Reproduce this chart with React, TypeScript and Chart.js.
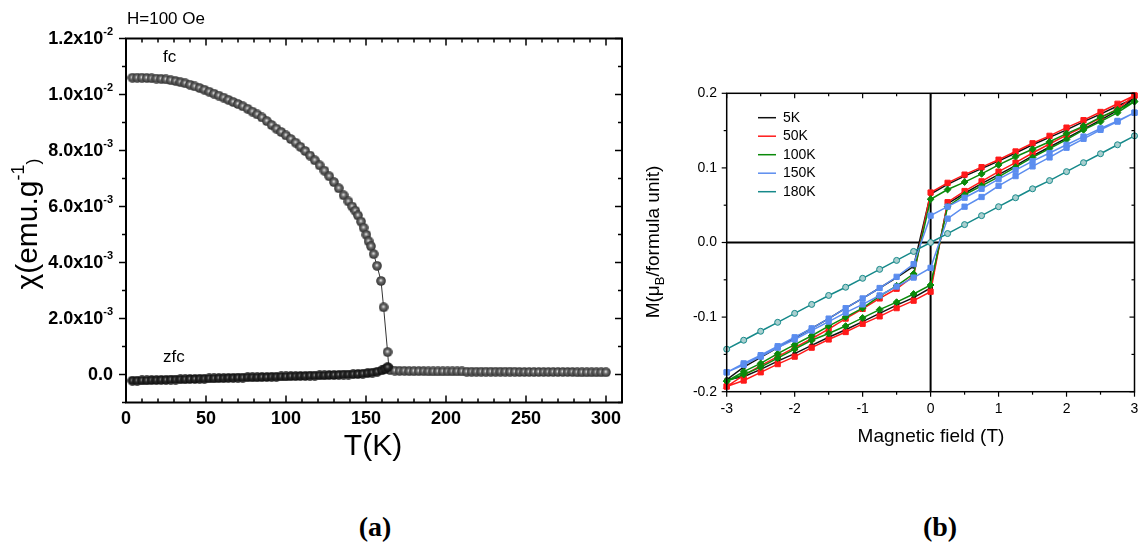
import { useEffect, useRef } from "react"
import { Chart, registerables } from "chart.js"

Chart.register(...registerables)

const SANS = '"Liberation Sans", Arial, Helvetica, sans-serif'
const SERIF = '"Liberation Serif", "Times New Roman", serif'

// ---- (a) susceptibility vs temperature, chi in units of 1e-3 emu/g
const fcTemp = [
  4, 7, 10, 13, 16, 19, 22, 25, 28, 31, 34, 37, 40, 43, 46, 49, 52, 55, 58, 61, 64, 67, 70, 73, 76, 79, 82, 85, 88,
  91, 94, 97, 100, 103, 106, 109, 112, 115, 118, 121, 124, 127, 130, 133, 136, 139, 141.3, 143.3, 145, 146.9, 148.5,
  150.2, 151.6, 153.1, 154.8, 156.9, 159.4, 161, 163.5, 164.3,
]
const fcChi = [
  10.6, 10.6, 10.6, 10.59, 10.58, 10.57, 10.56, 10.54, 10.51, 10.48, 10.44, 10.4, 10.35, 10.29, 10.23, 10.17, 10.1,
  10.03, 9.96, 9.89, 9.81, 9.73, 9.66, 9.58, 9.49, 9.39, 9.29, 9.18, 9.05, 8.91, 8.78, 8.66, 8.54, 8.41, 8.28, 8.13,
  7.98, 7.82, 7.65, 7.47, 7.28, 7.08, 6.87, 6.65, 6.4, 6.18, 6.0, 5.85, 5.68, 5.46, 5.24, 4.99, 4.76, 4.58, 4.3, 3.88,
  3.34, 2.4, 0.8, 0.22,
]
const zfcTemp = [
  4, 7, 10, 13, 16, 19, 22, 25, 28, 31, 34, 37, 40, 43, 46, 49, 52, 55, 58, 61, 64, 67, 70, 73, 76, 79, 82, 85, 88,
  91, 94, 97, 100, 103, 106, 109, 112, 115, 118, 121, 124, 127, 130, 133, 136, 139, 142, 145, 148, 151, 154, 157, 160,
  162, 163.5,
]
const zfcChi = [
  -0.22, -0.22, -0.21, -0.21, -0.2, -0.2, -0.19, -0.19, -0.18, -0.18, -0.17, -0.17, -0.16, -0.16, -0.15, -0.15, -0.14,
  -0.14, -0.13, -0.13, -0.12, -0.12, -0.11, -0.11, -0.1, -0.1, -0.1, -0.09, -0.09, -0.08, -0.08, -0.07, -0.07, -0.06,
  -0.06, -0.05, -0.05, -0.04, -0.04, -0.03, -0.03, -0.02, -0.02, -0.01, 0.0, 0.0, 0.01, 0.02, 0.03, 0.05, 0.07, 0.1,
  0.15, 0.2, 0.26,
]
const paraTemp = [
  165, 168, 171, 174, 177, 180, 183, 186, 189, 192, 195, 198, 201, 204, 207, 210, 213, 216, 219, 222, 225, 228, 231,
  234, 237, 240, 243, 246, 249, 252, 255, 258, 261, 264, 267, 270, 273, 276, 279, 282, 285, 288, 291, 294, 297, 300,
]
const paraChi = [
  0.16, 0.14, 0.13, 0.13, 0.12, 0.12, 0.12, 0.12, 0.11, 0.11, 0.11, 0.11, 0.11, 0.11, 0.11, 0.11, 0.1, 0.1, 0.1, 0.1,
  0.1, 0.1, 0.1, 0.1, 0.1, 0.1, 0.1, 0.09, 0.09, 0.09, 0.09, 0.09, 0.09, 0.09, 0.09, 0.09, 0.09, 0.09, 0.09, 0.08,
  0.08, 0.08, 0.08, 0.08, 0.08, 0.08,
]
const tempTicks = [0, 50, 100, 150, 200, 250, 300]
const chiTickValues = [12, 10, 8, 6, 4, 2, 0]
const chiTickMantissa = ["1.2x10", "1.0x10", "8.0x10", "6.0x10", "4.0x10", "2.0x10", "0.0"]
const chiTickExponent = ["-2", "-2", "-3", "-3", "-3", "-3", ""]

// ---- (b) M-H loops, field in T, M in muB per formula unit
const fieldDown = [3, 2.75, 2.5, 2.25, 2, 1.75, 1.5, 1.25, 1, 0.75, 0.5, 0.25, 0, -0.25, -0.5, -0.75, -1, -1.25, -1.5, -1.75, -2, -2.25, -2.5, -2.75, -3]
const fieldUp = [-3, -2.75, -2.5, -2.25, -2, -1.75, -1.5, -1.25, -1, -0.75, -0.5, -0.25, 0, 0.25, 0.5, 0.75, 1, 1.25, 1.5, 1.75, 2, 2.25, 2.5, 2.75, 3]

const m5KDown = [0.193, 0.183, 0.172, 0.162, 0.151, 0.141, 0.131, 0.12, 0.109, 0.099, 0.089, 0.078, 0.065, -0.032, -0.047, -0.061, -0.075, -0.088, -0.102, -0.115, -0.128, -0.141, -0.154, -0.167, -0.184]
const m5KUp = [-0.184, -0.18, -0.17, -0.159, -0.149, -0.138, -0.127, -0.117, -0.106, -0.095, -0.084, -0.074, -0.061, 0.052, 0.066, 0.079, 0.091, 0.103, 0.116, 0.128, 0.14, 0.152, 0.164, 0.177, 0.193]
const m50KDown = [0.197, 0.186, 0.175, 0.164, 0.154, 0.143, 0.133, 0.122, 0.111, 0.101, 0.091, 0.08, 0.067, -0.045, -0.062, -0.075, -0.089, -0.102, -0.116, -0.129, -0.141, -0.153, -0.165, -0.178, -0.193]
const m50KUp = [-0.193, -0.185, -0.174, -0.163, -0.153, -0.141, -0.13, -0.12, -0.109, -0.099, -0.088, -0.078, -0.066, 0.054, 0.069, 0.082, 0.095, 0.107, 0.12, 0.132, 0.144, 0.155, 0.167, 0.179, 0.197]
const m100KDown = [0.189, 0.178, 0.168, 0.156, 0.146, 0.135, 0.125, 0.115, 0.104, 0.092, 0.081, 0.071, 0.058, -0.042, -0.058, -0.072, -0.088, -0.1, -0.112, -0.125, -0.137, -0.149, -0.162, -0.173, -0.186]
const m100KUp = [-0.186, -0.177, -0.167, -0.155, -0.143, -0.131, -0.122, -0.112, -0.101, -0.09, -0.08, -0.069, -0.057, 0.048, 0.064, 0.076, 0.088, 0.101, 0.114, 0.126, 0.138, 0.151, 0.162, 0.174, 0.189]
const m150KDown = [0.174, 0.163, 0.153, 0.142, 0.131, 0.12, 0.109, 0.097, 0.085, 0.072, 0.06, 0.048, 0.036, -0.029, -0.046, -0.061, -0.075, -0.088, -0.102, -0.115, -0.127, -0.139, -0.151, -0.162, -0.174]
const m150KUp = [-0.174, -0.164, -0.153, -0.141, -0.13, -0.118, -0.106, -0.094, -0.083, -0.071, -0.059, -0.047, -0.034, 0.032, 0.048, 0.061, 0.076, 0.089, 0.102, 0.114, 0.127, 0.139, 0.151, 0.162, 0.174]
const m180KUp = [-0.143, -0.131, -0.119, -0.107, -0.095, -0.083, -0.071, -0.06, -0.048, -0.036, -0.024, -0.012, 0.0, 0.012, 0.024, 0.036, 0.048, 0.06, 0.072, 0.083, 0.095, 0.107, 0.119, 0.131, 0.143]

const loopLabels = ["5K", "50K", "100K", "150K", "180K"]
const loopColors = ["#111111", "#ff1a1a", "#0a8a0a", "#5b8def", "#16898a"]
const fieldTicks = [-3, -2, -1, 0, 1, 2, 3]
const momentTicks = [0.2, 0.1, 0, -0.1, -0.2]

function makeBall(d: number, light: string, mid: string, dark: string) {
  const c = document.createElement("canvas")
  c.width = d
  c.height = d
  const g = c.getContext("2d")!
  const r = d / 2
  const grad = g.createRadialGradient(r * 0.95, r * 0.85, 0, r, r, r)
  grad.addColorStop(0, light)
  grad.addColorStop(0.4, mid)
  grad.addColorStop(1, dark)
  g.fillStyle = grad
  g.beginPath()
  g.arc(r, r, r - 0.2, 0, Math.PI * 2)
  g.fill()
  return c
}

function seg(ctx: CanvasRenderingContext2D, x1: number, y1: number, x2: number, y2: number) {
  ctx.beginPath()
  ctx.moveTo(x1, y1)
  ctx.lineTo(x2, y2)
  ctx.stroke()
}

function SusceptibilityChart() {
  const chartRef = useRef<HTMLCanvasElement>(null)

  useEffect(() => {
    if (!chartRef.current) return
    const fcBall = makeBall(10, "#f2f2f2", "#6c6c6c", "#2a2a2a")
    const zfcBall = makeBall(10, "#9a9a9a", "#2a2a2a", "#0c0c0c")

    const frame = {
      id: "frameA",
      afterDraw(chart: any) {
        const { ctx, chartArea, scales } = chart
        const { left, right, top, bottom } = chartArea
        const x = scales.x
        const y = scales.y
        ctx.save()
        ctx.strokeStyle = "#000"
        ctx.lineWidth = 2
        ctx.strokeRect(left, top, right - left, bottom - top)
        ctx.lineWidth = 1.5
        for (let t = 0; t <= 310; t += 10) {
          const px = x.getPixelForValue(t)
          const len = t % 50 === 0 ? 7 : 4
          seg(ctx, px, bottom, px, bottom - len)
          seg(ctx, px, top, px, top + len)
        }
        for (let v = -1; v <= 12; v++) {
          const py = y.getPixelForValue(v)
          const len = v % 2 === 0 ? 7 : 4
          seg(ctx, left, py, left - len, py)
          seg(ctx, right, py, right - len, py)
        }
        ctx.fillStyle = "#000"
        ctx.textBaseline = "middle"
        ctx.textAlign = "center"
        ctx.font = `bold 18px ${SANS}`
        tempTicks.forEach((t) => ctx.fillText(String(t), x.getPixelForValue(t), 419))
        ctx.textAlign = "left"
        chiTickValues.forEach((v, i) => {
          const py = y.getPixelForValue(v)
          ctx.font = `bold 18px ${SANS}`
          const wm = ctx.measureText(chiTickMantissa[i]).width
          ctx.font = `bold 11px ${SANS}`
          const we = ctx.measureText(chiTickExponent[i]).width
          const x0 = 113 - wm - we
          ctx.font = `bold 18px ${SANS}`
          ctx.fillText(chiTickMantissa[i], x0, py + 1)
          ctx.font = `bold 11px ${SANS}`
          ctx.fillText(chiTickExponent[i], x0 + wm, py - 7)
        })
        // axis titles
        ctx.font = `30px ${SANS}`
        ctx.textAlign = "center"
        ctx.fillText("T(K)", 373, 447)
        ctx.translate(37, 224)
        ctx.rotate(-Math.PI / 2)
        ctx.textBaseline = "alphabetic"
        ctx.textAlign = "left"
        ctx.font = `30px ${SANS}`
        const main = "\u03c7(emu.g"
        const wMain = ctx.measureText(main).width
        ctx.font = `18px ${SANS}`
        const wSup = ctx.measureText("-1").width
        const wClose = ctx.measureText(")").width
        const x0 = -(wMain + wSup + wClose) / 2
        ctx.font = `30px ${SANS}`
        ctx.fillText(main, x0, 0)
        ctx.font = `18px ${SANS}`
        ctx.fillText("-1", x0 + wMain, -13)
        ctx.fillText(")", x0 + wMain + wSup, 2)
        ctx.restore()
        // annotations
        ctx.save()
        ctx.fillStyle = "#000"
        ctx.font = `17px ${SANS}`
        ctx.textBaseline = "middle"
        ctx.textAlign = "left"
        ctx.fillText("H=100 Oe", 127, 19)
        ctx.fillText("fc", 163, 57)
        ctx.fillText("zfc", 163, 357)
        ctx.restore()
      },
    }

    const chart = new Chart(chartRef.current, {
      type: "scatter",
      data: {
        datasets: [
          {
            label: "zfc",
            data: zfcTemp.map((t, i) => ({ x: t, y: zfcChi[i] })),
            showLine: true,
            borderColor: "#222",
            borderWidth: 1,
            pointStyle: zfcBall,
            pointRadius: 5,
          },
          {
            label: "fc",
            data: [
              ...fcTemp.map((t, i) => ({ x: t, y: fcChi[i] })),
              ...paraTemp.map((t, i) => ({ x: t, y: paraChi[i] })),
            ],
            showLine: true,
            borderColor: "#333",
            borderWidth: 1,
            pointStyle: fcBall,
            pointRadius: 5,
          },
        ],
      },
      options: {
        responsive: false,
        animation: false,
        events: [],
        clip: false,
        layout: { padding: { left: 0, top: 38.5, right: 18, bottom: 0 } },
        plugins: { legend: { display: false }, tooltip: { enabled: false } },
        scales: {
          x: {
            type: "linear",
            min: 0,
            max: 310,
            ticks: { display: false },
            grid: { display: false },
            border: { display: false },
            afterFit: (s: any) => {
              s.height = 67.5
            },
          },
          y: {
            type: "linear",
            min: -1,
            max: 12,
            ticks: { display: false },
            grid: { display: false },
            border: { display: false },
            afterFit: (s: any) => {
              s.width = 126
            },
          },
        },
      } as any,
      plugins: [frame],
    })

    return () => {
      chart.destroy()
    }
  }, [])

  return <canvas ref={chartRef} width={640} height={470} style={{ position: "absolute", left: 0, top: 0 }} />
}

function HysteresisChart() {
  const chartRef = useRef<HTMLCanvasElement>(null)

  useEffect(() => {
    if (!chartRef.current) return

    const loop = (down: number[], up: number[]) => [
      ...fieldDown.map((h, i) => ({ x: h, y: down[i] })),
      ...fieldUp.map((h, i) => ({ x: h, y: up[i] })),
    ]

    const zeroLines = {
      id: "zeroLines",
      beforeDatasetsDraw(chart: any) {
        const { ctx, chartArea, scales } = chart
        ctx.save()
        ctx.strokeStyle = "#000"
        ctx.lineWidth = 2
        const px = scales.x.getPixelForValue(0)
        const py = scales.y.getPixelForValue(0)
        seg(ctx, px, chartArea.top, px, chartArea.bottom)
        seg(ctx, chartArea.left, py, chartArea.right, py)
        ctx.restore()
      },
    }

    const frame = {
      id: "frameB",
      afterDraw(chart: any) {
        const { ctx, chartArea, scales } = chart
        const { left, right, top, bottom } = chartArea
        const x = scales.x
        const y = scales.y
        ctx.save()
        ctx.strokeStyle = "#000"
        ctx.lineWidth = 1.5
        ctx.strokeRect(left, top, right - left, bottom - top)
        ctx.lineWidth = 1.2
        for (let i = 0; i <= 12; i++) {
          const px = x.getPixelForValue(-3 + i * 0.5)
          const len = i % 2 === 0 ? 5 : 3
          seg(ctx, px, bottom, px, bottom + len)
          seg(ctx, px, top, px, top + len)
        }
        for (let i = 0; i <= 8; i++) {
          const py = y.getPixelForValue(-0.2 + i * 0.05)
          const len = i % 2 === 0 ? 5 : 3
          seg(ctx, left, py, left - len, py)
          seg(ctx, right, py, right - len, py)
        }
        ctx.fillStyle = "#000"
        ctx.font = `14px ${SANS}`
        ctx.textBaseline = "middle"
        ctx.textAlign = "center"
        fieldTicks.forEach((h) => ctx.fillText(String(h), x.getPixelForValue(h), 409))
        ctx.textAlign = "right"
        momentTicks.forEach((m) => ctx.fillText(m.toFixed(1), 77, y.getPixelForValue(m)))

        // legend
        ctx.textAlign = "left"
        ctx.lineWidth = 1.5
        loopLabels.forEach((lab, i) => {
          const ly = 117.7 + i * 18.5
          ctx.strokeStyle = loopColors[i]
          seg(ctx, 118, ly, 136, ly)
          ctx.fillStyle = "#000"
          ctx.fillText(lab, 143, ly)
        })

        // axis titles
        ctx.font = `19px ${SANS}`
        ctx.textAlign = "center"
        ctx.fillText("Magnetic field (T)", 291, 437)
        ctx.translate(19, 242)
        ctx.rotate(-Math.PI / 2)
        ctx.textBaseline = "alphabetic"
        ctx.textAlign = "left"
        const a = "M(\u03bc"
        const b = "B"
        const c = "/formula unit)"
        const wa = ctx.measureText(a).width
        const wc = ctx.measureText(c).width
        ctx.font = `13px ${SANS}`
        const wb = ctx.measureText(b).width
        const x0 = -(wa + wb + wc) / 2
        ctx.font = `19px ${SANS}`
        ctx.fillText(a, x0, 0)
        ctx.font = `13px ${SANS}`
        ctx.fillText(b, x0 + wa, 5)
        ctx.font = `19px ${SANS}`
        ctx.fillText(c, x0 + wa + wb, 0)
        ctx.restore()
      },
    }

    const base = { showLine: true, borderWidth: 1.5, pointBorderWidth: 1 }
    const chart = new Chart(chartRef.current, {
      type: "scatter",
      data: {
        datasets: [
          {
            ...base,
            label: "5K",
            data: loop(m5KDown, m5KUp),
            borderColor: loopColors[0],
            backgroundColor: loopColors[0],
            pointStyle: "circle",
            pointRadius: 2,
            order: 5,
          },
          {
            ...base,
            label: "50K",
            data: loop(m50KDown, m50KUp),
            borderColor: loopColors[1],
            backgroundColor: loopColors[1],
            pointStyle: "rect",
            pointRadius: 3.7,
            order: 4,
          },
          {
            ...base,
            label: "100K",
            data: loop(m100KDown, m100KUp),
            borderColor: loopColors[2],
            backgroundColor: loopColors[2],
            pointStyle: "rectRot",
            pointRadius: 3.4,
            order: 3,
          },
          {
            ...base,
            label: "150K",
            data: loop(m150KDown, m150KUp),
            borderColor: loopColors[3],
            backgroundColor: loopColors[3],
            pointStyle: "rect",
            pointRadius: 3.7,
            order: 2,
          },
          {
            ...base,
            label: "180K",
            data: fieldUp.map((h, i) => ({ x: h, y: m180KUp[i] })),
            borderColor: loopColors[4],
            backgroundColor: "#a9cfcf",
            pointStyle: "circle",
            pointRadius: 3,
            order: 1,
          },
        ],
      },
      options: {
        responsive: false,
        animation: false,
        events: [],
        clip: 4,
        layout: { padding: { left: 0, top: 93.3, right: 6.5, bottom: 0 } },
        plugins: { legend: { display: false }, tooltip: { enabled: false } },
        scales: {
          x: {
            type: "linear",
            min: -3,
            max: 3,
            ticks: { display: false },
            grid: { display: false },
            border: { display: false },
            afterFit: (s: any) => {
              s.height = 78.3
            },
          },
          y: {
            type: "linear",
            min: -0.2,
            max: 0.2,
            ticks: { display: false },
            grid: { display: false },
            border: { display: false },
            afterFit: (s: any) => {
              s.width = 86.7
            },
          },
        },
      } as any,
      plugins: [zeroLines, frame],
    })

    return () => {
      chart.destroy()
    }
  }, [])

  return <canvas ref={chartRef} width={501} height={470} style={{ position: "absolute", left: 640, top: 0 }} />
}

const panelLabel = (left: number): React.CSSProperties => ({
  position: "absolute",
  left: left - 50,
  top: 511,
  width: 100,
  lineHeight: "32px",
  textAlign: "center",
  fontFamily: SERIF,
  fontWeight: "bold",
  fontSize: 28,
  color: "#000",
})

export default function App() {
  return (
    <div style={{ position: "absolute", left: 0, top: 0, width: 1141, height: 554, background: "#fff", overflow: "hidden" }}>
      <SusceptibilityChart />
      <HysteresisChart />
      <div style={panelLabel(375)}>(a)</div>
      <div style={panelLabel(940)}>(b)</div>
    </div>
  )
}
